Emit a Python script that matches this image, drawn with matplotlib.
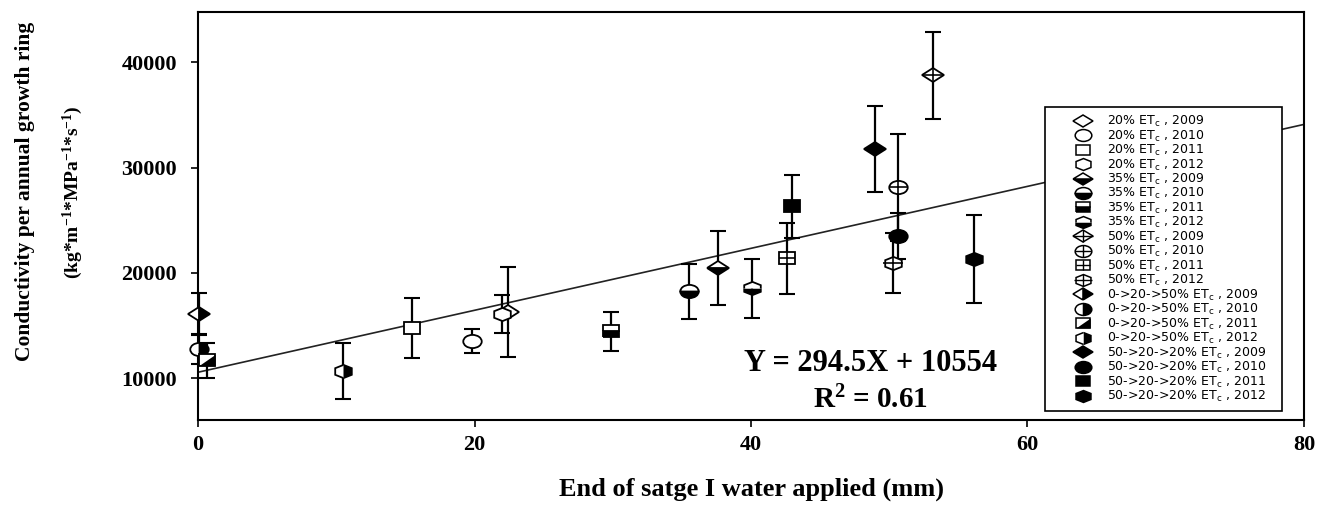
import numpy as np
import matplotlib
matplotlib.use("Agg")
from matplotlib import pyplot as plt
from matplotlib.markers import MarkerStyle
from matplotlib.path import Path
from matplotlib.transforms import Affine2D
from matplotlib.lines import Line2D

plt.rcParams['mathtext.default'] = 'regular'

# treatment labels in legend order
treatments = ["20% ET$_c$", "35% ET$_c$", "50% ET$_c$", "0->20->50% ET$_c$", "50->20->20% ET$_c$"]
years = ["2009", "2010", "2011", "2012"]

# water applied (mm), one row per treatment, one column per year
water = [
    [22.4, 19.8, 15.5, 22.0],
    [37.6, 35.5, 29.9, 40.1],
    [53.2, 50.6, 42.6, 50.3],
    [0.1, 0.1, 0.65, 10.5],
    [49.0, 50.6, 43.0, 56.1],
]
# conductivity per annual growth ring
conductivity = [
    [16300, 13500, 14750, 16100],
    [20450, 18260, 14460, 18550],
    [38770, 28140, 21400, 20920],
    [16080, 12750, 11700, 10660],
    [31750, 23480, 26330, 21300],
]
# standard errors
errors = [
    [4300, 1150, 2850, 1800],
    [3550, 2600, 1850, 2800],
    [4100, 5100, 3370, 2850],
    [2000, 1430, 1650, 2650],
    [4100, 2200, 3000, 4200],
]
slope = 294.5
intercept = 10554
fit_x = [0, 80]

# marker shape per year, with the horizontal stretch seen in the picture
shapes = ["D", "o", "s", "h"]
shape_tr = {"D": Affine2D().scale(1.3, 0.8), "o": Affine2D().scale(1.4, 1.0),
            "s": Affine2D().scale(1.45, 1.0), "h": Affine2D().scale(1.45, 1.0)}
shape_ms = {"D": 9.0, "o": 9.5, "s": 8.0, "h": 9.5}
fills = ["none", "bottom", "none", "right", "full"]
diag_tri = Path([(-1, -1), (1, -1), (1, 1), (-1, -1)])


def marker_parts(ti, yi, k, lw):
    shape = shapes[yi]
    fill = fills[ti]
    tr = shape_tr[shape]
    ms = shape_ms[shape] * k
    parts = []
    if ti == 3 and shape == "s":
        parts.append(dict(marker=MarkerStyle("s", transform=tr), ms=ms, mfc="white", mew=lw))
        parts.append(dict(marker=MarkerStyle(diag_tri, transform=tr), ms=ms, mfc="black", mew=0))
        return parts
    m = MarkerStyle(shape, fillstyle=fill if fill != "none" else "full", transform=tr)
    face = "black" if fill != "none" else "white"
    parts.append(dict(marker=m, ms=ms, mfc=face, mfcalt="white", mew=lw))
    if ti == 2:
        pm = ms * 1.414 if shape == "D" else ms
        parts.append(dict(marker=MarkerStyle("+", transform=tr), ms=pm, mew=lw * 0.9))
    return parts


fig = plt.figure(figsize=(13.31, 5.13), dpi=100)
ax = fig.add_axes([0.1488, 0.181, 0.8309, 0.7956])

ax.plot(fit_x, [slope * v + intercept for v in fit_x], color="#222222", lw=1.2, zorder=1)

handles = []
labels = []
for ti in range(len(treatments)):
    for yi in range(len(years)):
        ax.errorbar(water[ti][yi], conductivity[ti][yi], yerr=errors[ti][yi], fmt="none",
                    ecolor="black", elinewidth=1.6, capsize=5.5, capthick=1.5, zorder=2, clip_on=False)
        for p in marker_parts(ti, yi, 1.0, 1.3):
            ax.plot([water[ti][yi]], [conductivity[ti][yi]], linestyle="none", color="black",
                    mec="black", zorder=3, clip_on=False, **p)
        hs = [Line2D([], [], linestyle="none", color="black", mec="black", **p)
              for p in marker_parts(ti, yi, 0.9, 1.1)]
        handles.append(tuple(hs))
        labels.append(treatments[ti] + " , " + years[yi])

ax.set_xlim(0, 80)
ax.set_ylim(6000, 44800)
ax.set_xticks([0, 20, 40, 60, 80])
ax.set_yticks([10000, 20000, 30000, 40000])
for s in ax.spines.values():
    s.set_linewidth(1.5)
ax.tick_params(direction="out", length=5, width=1.2)
ax.tick_params(axis="x", pad=6)
ax.tick_params(axis="y", pad=10)
for lab in ax.get_xticklabels() + ax.get_yticklabels():
    lab.set_fontfamily("Liberation Serif")
    lab.set_fontweight("bold")
    lab.set_fontsize(16)

ax.set_xlabel("End of satge I water applied (mm)", fontfamily="Liberation Serif",
              fontweight="bold", fontsize=19, labelpad=16)
fig.text(0.019, 0.626, "Conductivity per annual growth ring", rotation=90, ha="center", va="center",
         fontfamily="Liberation Serif", fontweight="bold", fontsize=15.5)
fig.text(0.055, 0.626, "(kg*m$^{-1}$*MPa$^{-1}$*s$^{-1}$)", rotation=90, ha="center", va="center",
         fontfamily="Liberation Serif", fontweight="bold", fontsize=14)

ax.text(0.608, 0.14, "Y = 294.5X + 10554", transform=ax.transAxes, ha="center", va="center",
        fontfamily="Liberation Serif", fontweight="bold", fontsize=22)
ax.text(0.608, 0.05, "R$^2$ = 0.61", transform=ax.transAxes, ha="center", va="center",
        fontfamily="Liberation Serif", fontweight="bold", fontsize=21)

leg = ax.legend(handles, labels, loc="upper left", bbox_to_anchor=(0.766, 0.0, 0.2143, 0.767),
                mode="expand", prop={"family": "DejaVu Sans", "size": 9}, labelspacing=-0.05,
                handlelength=5.0, handletextpad=-0.6, borderpad=0.55, borderaxespad=0,
                frameon=True, fancybox=False, edgecolor="black", framealpha=1)
leg.get_frame().set_linewidth(1.2)

fig.savefig("out.png", dpi=100)
